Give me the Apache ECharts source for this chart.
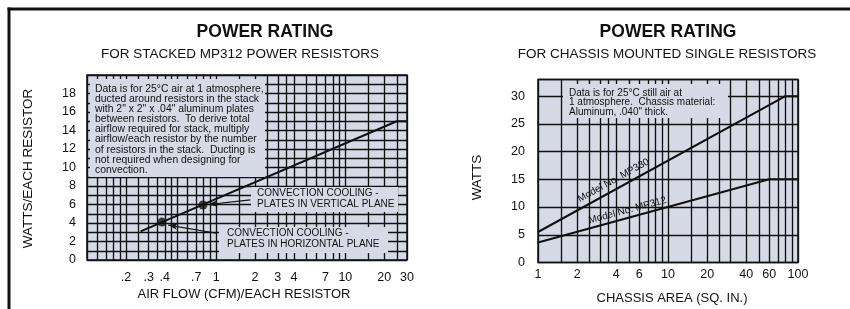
<!DOCTYPE html>
<html>
<head>
<meta charset="utf-8">
<script src="https://cdn.jsdelivr.net/npm/echarts@6/dist/echarts.min.js"></script>
<style>
  html, body { margin: 0; padding: 0; background: #fff; }
  #chart { width: 850px; height: 309px; }
</style>
</head>
<body>
<div id="chart"></div>
<script>
// ---- left chart: stacked MP312 resistors ----
const stackFlow = [0.26, 25, 30];
const stackWatts = [3.1, 15, 15];
const convFlow = [0.38, 0.79];   // convection points
const convWatts = [4.1, 5.95];
const stackXLabels = [0.2, 0.3, 0.4, 0.7, 1, 2, 3, 4, 7, 10, 20, 30];
const stackXGrid = [0.1, 0.12, 0.14, 0.16, 0.18, 0.2, 0.25, 0.3, 0.35, 0.4, 0.45, 0.5, 0.6, 0.7, 0.8, 0.9,
  1, 1.5, 2, 2.5, 3, 3.5, 4, 5, 6, 7, 8, 9, 10, 15, 20, 25, 30];
// arrows: [fromX, fromY, toX, toY]
const arrowVertical = [1.84, 6.49, 0.87, 6.0];
const arrowHorizontal = [1.01, 2.89, 0.426, 3.78];

// ---- right chart: chassis mounted single resistors ----
const mp330Area = [1, 80, 100];
const mp330Watts = [5.5, 30, 30];
const mp312Area = [1, 60, 100];
const mp312Watts = [3.6, 15, 15];
const chassisXLabels = [1, 2, 4, 6, 10, 20, 40, 60, 100];
const chassisXGrid = [1, 1.5, 2, 2.5, 3, 3.5, 4, 5, 6, 7, 8, 9, 10, 15, 20, 25, 30, 40, 50, 60, 70, 80, 90, 100];
// where the rotated model labels sit (area, watts)
const mp330LabelAt = [3.81, 14.8];
const mp312LabelAt = [4.88, 9.4];

const FONT = "'Liberation Sans', Arial, Helvetica, sans-serif";
const INK = '#111';
const PAPER = '#d6d9e6';

const stackNote = [
  'Data is for 25°C air at 1 atmosphere,',
  'ducted around resistors in the stack',
  'with 2" x 2" x .04" aluminum plates',
  'between resistors.  To derive total',
  'airflow required for stack, multiply',
  'airflow/each resistor by the number',
  'of resistors in the stack.  Ducting is',
  'not required when designing for',
  'convection.'
].join('\n');
const chassisNote = [
  'Data is for 25°C still air at',
  '1 atmosphere.  Chassis material:',
  'Aluminum, .040" thick.'
].join('\n');

function zip(xs, ys) {
  return xs.map((x, i) => [x, ys[i]]);
}
function flowLabel(v) {
  const r = Math.round(v * 100) / 100;
  return r < 1 ? String(r).replace('0.', '.') : String(r);
}

const gridLine = { show: true, lineStyle: { color: INK, width: 1.35 } };

const option = {
  animation: false,
  textStyle: { fontFamily: FONT },
  grid: [
    { left: 87, top: 75, width: 320, height: 185, show: true, backgroundColor: PAPER, borderColor: INK, borderWidth: 1.5 },
    { left: 538, top: 79.5, width: 260, height: 183, show: true, backgroundColor: PAPER, borderColor: INK, borderWidth: 1.5 }
  ],
  xAxis: [
    {
      type: 'log', gridIndex: 0, min: 0.1, max: 30,
      axisLine: { show: false },
      axisTick: { show: false, customValues: stackXGrid },
      axisLabel: { customValues: stackXLabels, formatter: flowLabel, color: INK, fontSize: 12.5, margin: 11, fontFamily: FONT },
      splitLine: gridLine
    },
    {
      type: 'log', gridIndex: 1, min: 1, max: 100,
      axisLine: { show: false },
      axisTick: { show: false, customValues: chassisXGrid },
      axisLabel: { customValues: chassisXLabels, formatter: flowLabel, color: INK, fontSize: 12.5, margin: 6, fontFamily: FONT },
      splitLine: gridLine
    }
  ],
  yAxis: [
    {
      type: 'value', gridIndex: 0, min: 0, max: 20, interval: 1,
      axisLine: { show: false }, axisTick: { show: false },
      axisLabel: {
        color: INK, fontSize: 12.5, margin: 11, fontFamily: FONT,
        formatter: v => (v % 2 === 0 && v < 20 ? String(v) : '')
      },
      splitLine: gridLine
    },
    {
      type: 'value', gridIndex: 1, min: 0, max: 33, interval: 5,
      axisLine: { show: false }, axisTick: { show: false },
      axisLabel: {
        color: INK, fontSize: 12.5, margin: 13, fontFamily: FONT,
        formatter: v => (v % 5 === 0 ? String(v) : '')
      },
      splitLine: gridLine
    }
  ],
  series: [
    {
      name: 'stack', type: 'line', xAxisIndex: 0, yAxisIndex: 0,
      data: zip(stackFlow, stackWatts), symbol: 'none',
      lineStyle: { color: INK, width: 2 }
    },
    {
      name: 'convection', type: 'scatter', xAxisIndex: 0, yAxisIndex: 0,
      data: zip(convFlow, convWatts), symbolSize: 9,
      itemStyle: { color: INK },
      markLine: {
        silent: true,
        symbol: ['none', 'arrow'],
        symbolSize: [5, 9],
        label: { show: false },
        lineStyle: { color: INK, width: 1.2, type: 'solid' },
        data: [
          [{ coord: arrowVertical.slice(0, 2) }, { coord: arrowVertical.slice(2) }],
          [{ coord: arrowHorizontal.slice(0, 2) }, { coord: arrowHorizontal.slice(2) }]
        ]
      }
    },
    {
      name: 'MP330', type: 'line', xAxisIndex: 1, yAxisIndex: 1,
      data: zip(mp330Area, mp330Watts), symbol: 'none',
      lineStyle: { color: INK, width: 2 }
    },
    {
      name: 'MP312', type: 'line', xAxisIndex: 1, yAxisIndex: 1,
      data: zip(mp312Area, mp312Watts), symbol: 'none',
      lineStyle: { color: INK, width: 2 }
    }
  ],
  graphic: [
    // page frame
    { type: 'line', z: 50, shape: { x1: 7.5, y1: 9, x2: 850, y2: 9 }, style: { stroke: INK, lineWidth: 3 } },
    { type: 'line', z: 50, shape: { x1: 9, y1: 7.5, x2: 9, y2: 309 }, style: { stroke: INK, lineWidth: 3 } },

    // titles
    { type: 'text', z: 50, x: 265, y: 32, style: { text: 'POWER RATING', font: 'bold 17.5px ' + FONT, fill: INK, textAlign: 'center', textVerticalAlign: 'middle' } },
    { type: 'text', z: 50, x: 240, y: 54, style: { text: 'FOR STACKED MP312 POWER RESISTORS', font: '13.5px ' + FONT, fill: INK, textAlign: 'center', textVerticalAlign: 'middle' } },
    { type: 'text', z: 50, x: 668, y: 32, style: { text: 'POWER RATING', font: 'bold 17.5px ' + FONT, fill: INK, textAlign: 'center', textVerticalAlign: 'middle' } },
    { type: 'text', z: 50, x: 667, y: 54, style: { text: 'FOR CHASSIS MOUNTED SINGLE RESISTORS', font: '13.5px ' + FONT, fill: INK, textAlign: 'center', textVerticalAlign: 'middle' } },

    // axis names
    { type: 'text', z: 50, x: 28, y: 168.5, rotation: Math.PI / 2, style: { text: 'WATTS/EACH RESISTOR', font: '13.5px ' + FONT, fill: INK, textAlign: 'center', textVerticalAlign: 'middle' } },
    { type: 'text', z: 50, x: 244, y: 294, style: { text: 'AIR FLOW (CFM)/EACH RESISTOR', font: '13px ' + FONT, fill: INK, textAlign: 'center', textVerticalAlign: 'middle' } },
    { type: 'text', z: 50, x: 477, y: 177.5, rotation: Math.PI / 2, style: { text: 'WATTS', font: '13.5px ' + FONT, fill: INK, textAlign: 'center', textVerticalAlign: 'middle' } },
    { type: 'text', z: 50, x: 672, y: 298, style: { text: 'CHASSIS AREA (SQ. IN.)', font: '13px ' + FONT, fill: INK, textAlign: 'center', textVerticalAlign: 'middle' } },

    // note boxes (cover the grid)
    { type: 'rect', z: 40, shape: { x: 90, y: 79, width: 175, height: 98 }, style: { fill: PAPER } },
    { type: 'text', z: 50, x: 95, y: 84, style: { text: stackNote, font: '10.4px ' + FONT, lineHeight: 10.1, fill: INK, textVerticalAlign: 'top' } },
    { type: 'rect', z: 40, shape: { x: 563, y: 84, width: 165, height: 34 }, style: { fill: PAPER } },
    { type: 'text', z: 50, x: 569, y: 88.6, style: { text: chassisNote, font: '10px ' + FONT, lineHeight: 9.3, fill: INK, textVerticalAlign: 'top' } },

    // convection labels
    { type: 'rect', z: 40, shape: { x: 251, y: 187, width: 147, height: 25 }, style: { fill: PAPER } },
    { type: 'text', z: 50, x: 257, y: 188, style: { text: 'CONVECTION COOLING -\nPLATES IN VERTICAL PLANE', font: '10px ' + FONT, lineHeight: 11, fill: INK, textVerticalAlign: 'top' } },
    { type: 'rect', z: 40, shape: { x: 219, y: 227, width: 169, height: 26 }, style: { fill: PAPER } },
    { type: 'text', z: 50, x: 227, y: 227.5, style: { text: 'CONVECTION COOLING -\nPLATES IN HORIZONTAL PLANE', font: '10px ' + FONT, lineHeight: 11, fill: INK, textVerticalAlign: 'top' } }
  ]
};

const chart = echarts.init(document.getElementById('chart'));
chart.setOption(option);

// rotated model labels, placed through the right chart's own scales
function modelLabel(text, at, angleDeg) {
  const p = chart.convertToPixel({ xAxisIndex: 1, yAxisIndex: 1 }, at);
  return {
    type: 'text', z: 50, x: p[0], y: p[1], rotation: angleDeg * Math.PI / 180,
    style: { text: text, font: '10px ' + FONT, fill: INK, textAlign: 'center', textVerticalAlign: 'middle' }
  };
}
chart.setOption({
  graphic: option.graphic.concat([
    modelLabel('Model No. MP330', mp330LabelAt, 29),
    modelLabel('Model No. MP312', mp312LabelAt, 15)
  ])
}, { replaceMerge: ['graphic'] });
</script>
</body>
</html>
